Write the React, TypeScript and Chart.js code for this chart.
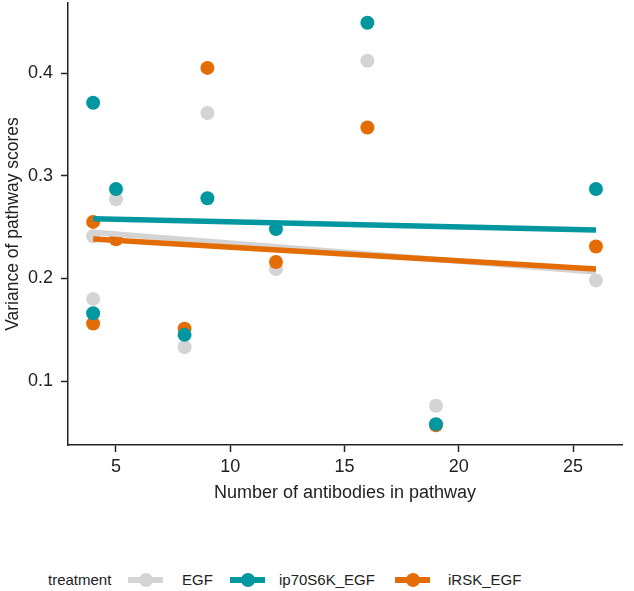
import React, { useEffect, useRef } from "react";
import { Chart, registerables } from "chart.js";

Chart.register(...registerables);

// ---- data ----
const pathwaySizes = [4, 4, 5, 8, 9, 12, 16, 19, 26];
const egfVariance = [0.241, 0.180, 0.277, 0.133, 0.361, 0.209, 0.412, 0.076, 0.198];
const ip70s6kVariance = [0.371, 0.166, 0.287, 0.145, 0.278, 0.248, 0.449, 0.058, 0.287];
const irskVariance = [0.255, 0.156, 0.238, 0.151, 0.405, 0.216, 0.347, 0.057, 0.231];
const treatments = ["EGF", "ip70S6K_EGF", "iRSK_EGF"];
const xTickValues = [5, 10, 15, 20, 25];
const yTickValues = [0.1, 0.2, 0.3, 0.4];

const COLORS = ["#d4d4d4", "#0097a0", "#e46c04"];
const FONT = "'Liberation Sans', Arial, Helvetica, sans-serif";

function fitLine(xs: number[], ys: number[]) {
  const n = xs.length;
  const mx = xs.reduce((a, b) => a + b, 0) / n;
  const my = ys.reduce((a, b) => a + b, 0) / n;
  let sxy = 0, sxx = 0;
  for (let i = 0; i < n; i++) {
    sxy += (xs[i] - mx) * (ys[i] - my);
    sxx += (xs[i] - mx) * (xs[i] - mx);
  }
  const b = sxy / sxx;
  const a = my - b * mx;
  const lo = Math.min(...xs), hi = Math.max(...xs);
  return [{ x: lo, y: a + b * lo }, { x: hi, y: a + b * hi }];
}

function pts(xs: number[], ys: number[]) {
  return xs.map((x, i) => ({ x, y: ys[i] }));
}

export default function App() {
  const ref = useRef<HTMLCanvasElement | null>(null);

  useEffect(() => {
    if (!ref.current) return;
    const series = [egfVariance, ip70s6kVariance, irskVariance];
    const pointOrder = [6, 4, 5];
    const lineOrder = [3, 2, 1];
    const datasets: any[] = [];
    series.forEach((ys, i) => {
      datasets.push({
        label: treatments[i],
        data: pts(pathwaySizes, ys),
        backgroundColor: COLORS[i],
        borderColor: COLORS[i],
        borderWidth: 0,
        pointRadius: 7,
        pointHoverRadius: 7,
        order: pointOrder[i],
      });
    });
    series.forEach((ys, i) => {
      datasets.push({
        label: treatments[i] + " fit",
        data: fitLine(pathwaySizes, ys),
        showLine: true,
        borderColor: COLORS[i],
        backgroundColor: COLORS[i],
        borderWidth: 5.5,
        pointRadius: 0,
        pointHoverRadius: 0,
        fill: false,
        order: lineOrder[i],
      });
    });

    const tickFont = { family: FONT, size: 18 };
    const chart = new Chart(ref.current, {
      type: "scatter",
      data: { datasets },
      options: {
        animation: false,
        responsive: false,
        maintainAspectRatio: false,
        layout: { autoPadding: false, padding: { top: 3, right: 12, bottom: 0, left: 0 } },
        plugins: { legend: { display: false }, tooltip: { enabled: false } },
        scales: {
          x: {
            type: "linear",
            min: 2.9,
            max: 27.14,
            afterBuildTicks: (s: any) => {
              s.ticks = xTickValues.map((v) => ({ value: v }));
            },
            afterFit: (s: any) => {
              s.height = 75;
              s.paddingLeft = 0;
              s.paddingRight = 0;
            },
            grid: {
              display: true,
              drawOnChartArea: false,
              drawTicks: true,
              tickLength: 7,
              tickColor: "#222",
              tickWidth: 1.5,
            },
            border: { display: true, color: "#222", width: 1.5 },
            ticks: {
              font: tickFont,
              color: "#222",
              padding: 4,
              maxRotation: 0,
              autoSkip: false,
              callback: (v: any) => String(v),
            },
            title: {
              display: true,
              text: "Number of antibodies in pathway",
              font: { family: FONT, size: 18 },
              color: "#222",
              padding: { top: 0, bottom: 16 },
            },
          },
          y: {
            type: "linear",
            min: 0.0377,
            max: 0.4682,
            afterBuildTicks: (s: any) => {
              s.ticks = yTickValues.map((v) => ({ value: v }));
            },
            afterFit: (s: any) => {
              s.width = 68;
              s.paddingTop = 0;
              s.paddingBottom = 0;
            },
            grid: {
              display: true,
              drawOnChartArea: false,
              drawTicks: true,
              tickLength: 7,
              tickColor: "#222",
              tickWidth: 1.5,
            },
            border: { display: true, color: "#222", width: 1.5 },
            ticks: {
              font: tickFont,
              color: "#222",
              padding: 8,
              autoSkip: false,
              callback: (v: any) => Number(v).toFixed(1),
            },
            title: {
              display: true,
              text: "Variance of pathway scores",
              font: { family: FONT, size: 17.5 },
              color: "#222",
              padding: { top: 3, bottom: 0 },
            },
          },
        },
      },
    });
    return () => chart.destroy();
  }, []);

  const legendItems = [
    { label: treatments[0], color: COLORS[0], symLeft: 128, textLeft: 182 },
    { label: treatments[1], color: COLORS[1], symLeft: 230, textLeft: 279 },
    { label: treatments[2], color: COLORS[2], symLeft: 395, textLeft: 448 },
  ];
  const legendY = 580;
  const textStyle: React.CSSProperties = {
    position: "absolute",
    fontFamily: FONT,
    fontSize: 15,
    lineHeight: "18px",
    color: "#222",
    top: legendY - 9,
    whiteSpace: "nowrap",
  };

  return (
    <div
      style={{
        position: "fixed",
        left: 0,
        top: 0,
        width: 634,
        height: 591,
        background: "#fff",
        overflow: "hidden",
      }}
    >
      <canvas ref={ref} width={634} height={520} style={{ display: "block" }} />
      <div style={{ ...textStyle, left: 48 }}>treatment</div>
      {legendItems.map((it) => (
        <React.Fragment key={it.label}>
          <div
            style={{
              position: "absolute",
              left: it.symLeft,
              top: legendY - 2.75,
              width: 35,
              height: 5.5,
              background: it.color,
            }}
          />
          <div
            style={{
              position: "absolute",
              left: it.symLeft + 17.5 - 7,
              top: legendY - 7,
              width: 14,
              height: 14,
              borderRadius: "50%",
              background: it.color,
            }}
          />
          <div style={{ ...textStyle, left: it.textLeft }}>{it.label}</div>
        </React.Fragment>
      ))}
    </div>
  );
}
